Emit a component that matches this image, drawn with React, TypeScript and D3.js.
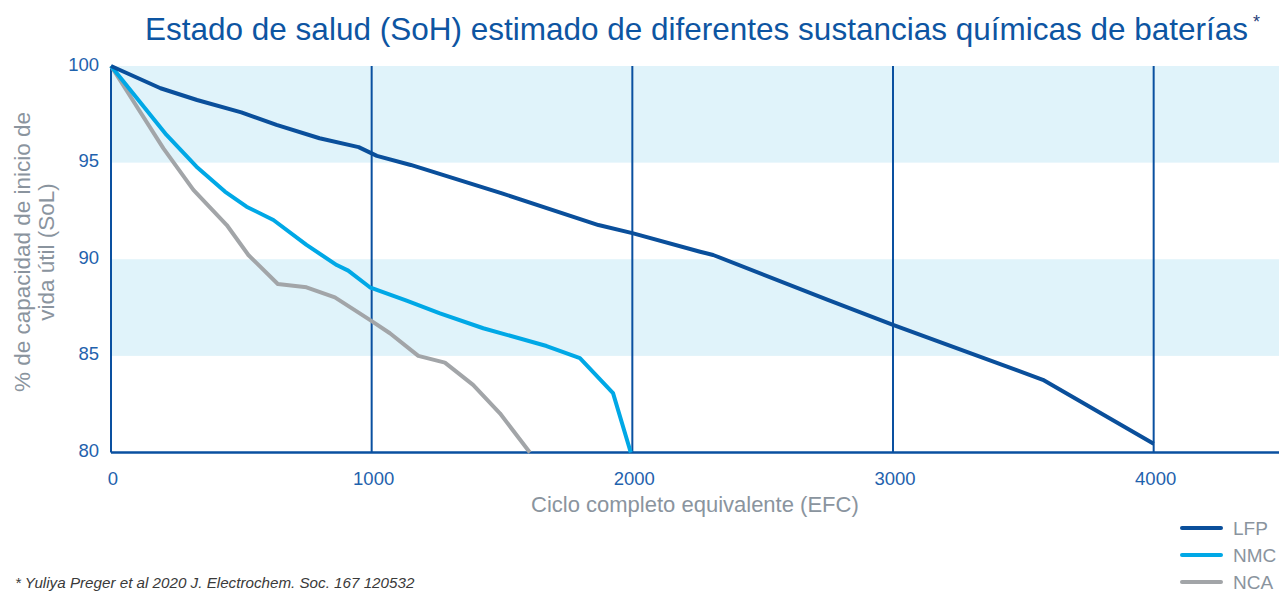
import React, { useEffect, useRef } from 'react';
import * as d3 from 'd3';

// Cycle (EFC) / SoH (%) pairs
const lfpCycles = [0, 190, 330, 500, 635, 800, 950, 1020, 1150, 1500, 1870, 2000, 2260, 2310, 2750, 3000, 3575, 4000];
const lfpValues = [100, 98.85, 98.24, 97.6, 96.95, 96.26, 95.8, 95.35, 94.88, 93.41, 91.77, 91.35, 90.39, 90.22, 87.9, 86.6, 83.76, 80.45];

const nmcCycles = [0, 213, 328, 437, 520, 623, 750, 866, 910, 993, 1134, 1262, 1428, 1671, 1799, 1926, 1994];
const nmcValues = [100, 96.43, 94.79, 93.5, 92.72, 92.03, 90.74, 89.7, 89.41, 88.55, 87.86, 87.2, 86.43, 85.51, 84.88, 83.07, 80.0];

const ncaCycles = [0, 201, 316, 444, 527, 640, 750, 859, 993, 1070, 1179, 1281, 1389, 1492, 1607];
const ncaValues = [100, 95.74, 93.59, 91.77, 90.22, 88.72, 88.55, 88.03, 86.86, 86.17, 85.0, 84.65, 83.5, 82.03, 80.0];

const seriesNames = ['LFP', 'NMC', 'NCA'];
const seriesColors = ['#0a4f9b', '#00a8e6', '#a2a5a8'];

const xTicks = [0, 1000, 2000, 3000, 4000];
const yTicks = [80, 85, 90, 95, 100];
const bandRanges = [[95, 100], [85, 90]];

const FONT = '"Liberation Sans", Arial, Helvetica, sans-serif';

const App: React.FC = () => {
  const svgRef = useRef<SVGSVGElement | null>(null);

  useEffect(() => {
    const width = 1279;
    const height = 594;
    const svg = d3.select(svgRef.current)
      .attr('width', width)
      .attr('height', height);

    svg.selectAll('*').remove();

    const x = d3.scaleLinear().domain([0, 4500]).range([111, 1284]);
    const y = d3.scaleLinear().domain([80, 100]).range([452.5, 66]);

    // light blue bands
    svg.selectAll('.band')
      .data(bandRanges)
      .enter()
      .append('rect')
      .attr('x', x(0))
      .attr('y', d => y(d[1]))
      .attr('width', width - x(0))
      .attr('height', d => y(d[0]) - y(d[1]))
      .attr('fill', '#e0f3fa');

    // vertical grid lines
    svg.selectAll('.vgrid')
      .data(xTicks)
      .enter()
      .append('line')
      .attr('x1', d => x(d))
      .attr('x2', d => x(d))
      .attr('y1', y(100))
      .attr('y2', y(80))
      .attr('stroke', '#0a50a0')
      .attr('stroke-width', 2);

    // bottom axis line
    svg.append('line')
      .attr('x1', x(0))
      .attr('x2', width)
      .attr('y1', y(80))
      .attr('y2', y(80))
      .attr('stroke', '#0a50a0')
      .attr('stroke-width', 2.5);

    // tick labels
    svg.selectAll('.xlab')
      .data(xTicks)
      .enter()
      .append('text')
      .attr('x', d => x(d) + 2)
      .attr('y', 485)
      .attr('text-anchor', 'middle')
      .attr('font-family', FONT)
      .attr('font-size', 18.5)
      .attr('fill', '#1f62ad')
      .text(d => String(d));

    svg.selectAll('.ylab')
      .data(yTicks)
      .enter()
      .append('text')
      .attr('x', 99)
      .attr('y', d => y(d) + 4.5)
      .attr('text-anchor', 'end')
      .attr('font-family', FONT)
      .attr('font-size', 18.5)
      .attr('fill', '#1f62ad')
      .text(d => String(d));

    // series lines
    const allCycles = [lfpCycles, nmcCycles, ncaCycles];
    const allValues = [lfpValues, nmcValues, ncaValues];
    const line = d3.line<[number, number]>()
      .x(d => x(d[0]))
      .y(d => y(d[1]));

    [2, 1, 0].forEach(i => {
      const pts = allCycles[i].map((c, j) => [c, allValues[i][j]] as [number, number]);
      svg.append('path')
        .attr('d', line(pts))
        .attr('fill', 'none')
        .attr('stroke', seriesColors[i])
        .attr('stroke-width', 4)
        .attr('stroke-linejoin', 'round');
    });

    // title
    const title = svg.append('text')
      .attr('x', 145)
      .attr('y', 40)
      .attr('font-family', FONT)
      .attr('font-size', 31.5)
      .attr('fill', '#0d55a2');
    title.append('tspan').text('Estado de salud (SoH) estimado de diferentes sustancias químicas de baterías');
    title.append('tspan')
      .attr('dx', 5)
      .attr('dy', -12)
      .attr('font-size', 18)
      .attr('fill', '#2a3f7a')
      .text('*');

    // axis titles
    svg.append('text')
      .attr('x', x(2240))
      .attr('y', 512)
      .attr('text-anchor', 'middle')
      .attr('font-family', FONT)
      .attr('font-size', 22)
      .attr('fill', '#8a949e')
      .text('Ciclo completo equivalente (EFC)');

    const yTitle = svg.append('text')
      .attr('transform', 'translate(30, 252) rotate(-90)')
      .attr('text-anchor', 'middle')
      .attr('font-family', FONT)
      .attr('font-size', 22.5)
      .attr('fill', '#8a949e');
    yTitle.append('tspan').attr('x', 0).attr('y', 0).text('% de capacidad de inicio de');
    yTitle.append('tspan').attr('x', 0).attr('y', 24).text('vida útil (SoL)');

    // legend
    const legend = svg.selectAll('.legend')
      .data(seriesNames)
      .enter()
      .append('g')
      .attr('transform', (_, i) => `translate(1181, ${528 + i * 27})`);

    legend.append('line')
      .attr('x1', 1)
      .attr('x2', 40)
      .attr('y1', 0)
      .attr('y2', 0)
      .attr('stroke', (_, i) => seriesColors[i])
      .attr('stroke-width', 4)
      .attr('stroke-linecap', 'round');

    legend.append('text')
      .attr('x', 52)
      .attr('y', 6.5)
      .attr('font-family', FONT)
      .attr('font-size', 19)
      .attr('fill', '#8a949e')
      .text(d => d);

    // footnote
    svg.append('text')
      .attr('x', 15)
      .attr('y', 588)
      .attr('font-family', FONT)
      .attr('font-size', 15.2)
      .attr('font-style', 'italic')
      .attr('fill', '#3a3a3a')
      .text('* Yuliya Preger et al 2020 J. Electrochem. Soc. 167 120532');
  }, []);

  return (
    <svg
      ref={svgRef}
      style={{ position: 'absolute', left: 0, top: 0, display: 'block', background: '#fff' }}
    ></svg>
  );
};

export default App;
